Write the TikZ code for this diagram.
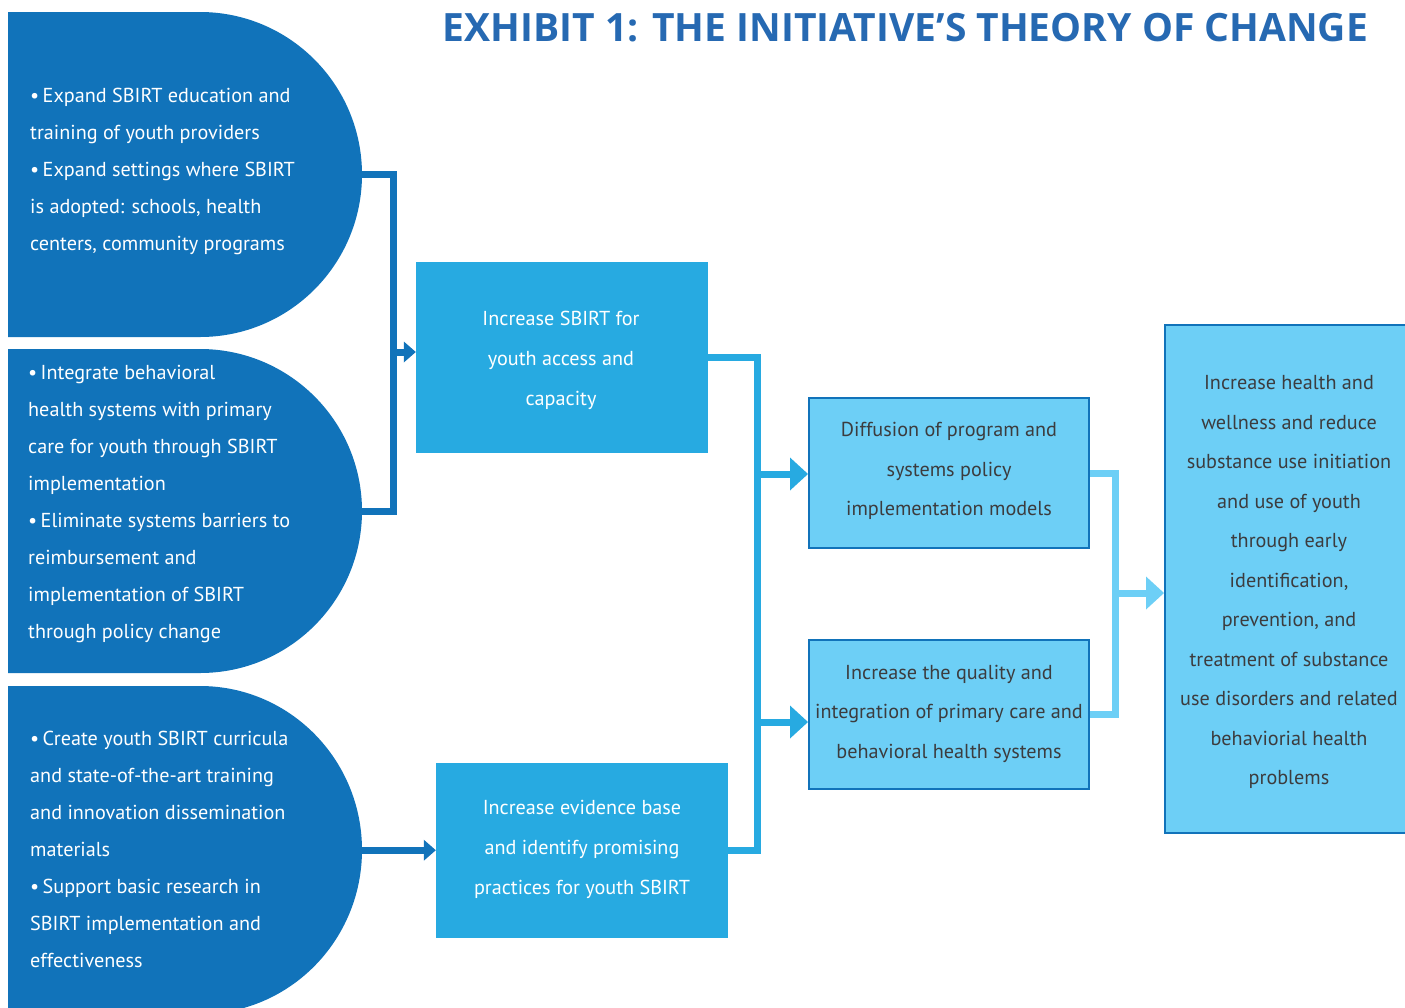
\documentclass[tikz,border=0pt]{standalone}
\usepackage{fontspec}
\setmainfont{PT Sans}
\newfontfamily\titlefont{Open Sans}
\usetikzlibrary{arrows.meta}
\definecolor{dblue}{RGB}{17,115,186}
\definecolor{mblue}{RGB}{39,170,225}
\definecolor{lblue}{RGB}{109,207,246}
\definecolor{tgray}{RGB}{60,60,62}
\definecolor{tblue}{RGB}{38,105,178}
\tikzset{
  frame/.style={inner sep=0pt, minimum width=#1},
  dtext/.style={text=white, align=left, inner sep=0pt, anchor=west, font=\fontsize{20.2}{37}\selectfont},
  midbox/.style={fill=mblue, inner sep=0pt},
  midtext/.style={text=white, align=center, inner sep=0pt, font=\fontsize{20.2}{40}\selectfont},
  litebox/.style={fill=lblue, draw=dblue, line width=2pt, inner sep=0pt},
  litetext/.style={text=tgray, align=center, inner sep=0pt, font=\fontsize{20.2}{39.5}\selectfont},
  dline/.style={draw=dblue, line width=7pt},
  mline/.style={draw=mblue, line width=7pt},
  lline/.style={draw=lblue, line width=7pt},
  smalltip/.style={-{Triangle[length=12pt,width=21pt,line width=0pt]}},
  bigtip/.style={-{Triangle[length=18pt,width=33pt,line width=0pt]}},
}
\begin{document}
\begin{tikzpicture}[x=1pt,y=-1pt]
\useasboundingbox (0,0) rectangle (1405,1007);
\begin{scope}
\clip (0,0) rectangle (1405,1007);
% D shapes
\fill[dblue] (8,12) -- (200,12) .. controls (289.5,12) and (362,84.8) .. (362,174.5) .. controls (362,264.2) and (289.5,337) .. (200,337) -- (8,337) -- cycle;
\fill[dblue] (8,349) -- (200,349) .. controls (289.5,349) and (362,421.5) .. (362,511) .. controls (362,600.5) and (289.5,673) .. (200,673) -- (8,673) -- cycle;
\fill[dblue] (8,686) -- (200,686) .. controls (289.5,686) and (362,759.4) .. (362,850) .. controls (362,940.6) and (289.5,1014) .. (200,1014) -- (8,1014) -- cycle;
\node[frame=354pt, minimum height=325pt, anchor=north west] (s1) at (8,12) {};
\node[frame=354pt, minimum height=324pt, anchor=north west] (s2) at (8,349) {};
\node[frame=354pt, minimum height=328pt, anchor=north west] (s3) at (8,686) {};

\node[dtext] (t1) at (30,171) {•\,Expand SBIRT education and\\training of youth providers\\•\,Expand settings where SBIRT\\is adopted: schools, health\\centers, community programs};
\node[dtext] (t2) at (28,504) {•\,Integrate behavioral\\health systems with primary\\care for youth through SBIRT\\implementation\\•\,Eliminate systems barriers to\\reimbursement and\\implementation of SBIRT\\through policy change};
\node[dtext] (t3) at (30,849.5) {•\,Create youth SBIRT curricula\\and state-of-the-art training\\and innovation dissemination\\materials\\•\,Support basic research in\\SBIRT implementation and\\effectiveness};

% boxes
\node[midbox, minimum width=292pt, minimum height=191pt] (a) at (562,357.5) {};
\node[midtext] (ta) at (561,360.5) {Increase SBIRT for\\youth access and\\capacity};
\node[midbox, minimum width=292pt, minimum height=175pt] (b) at (582,850.5) {};
\node[midtext] (tb) at (582,849.5) {Increase evidence base\\and identify promising\\practices for youth SBIRT};
\node[litebox, minimum width=280pt, minimum height=150pt] (c) at (949,473) {};
\node[litetext] (tc) at (949,471) {Diffusion of program and\\systems policy\\implementation models};
\node[litebox, minimum width=280pt, minimum height=149pt] (d) at (949,714.5) {};
\node[litetext] (td) at (949,713.5) {Increase the quality and\\integration of primary care and\\behavioral health systems};
\node[litebox, minimum width=248pt, minimum height=508pt] (e) at (1289,579) {};
\node[litetext] (te) at (1289,582) {Increase health and\\wellness and reduce\\substance use initiation\\and use of youth\\through early\\identification,\\prevention, and\\treatment of substance\\use disorders and related\\behaviorial health\\problems};
\end{scope}

% title
\node[text=tblue, font=\titlefont\bfseries\fontsize{39}{39}\selectfont, inner sep=0pt] (title) at (905.5,28) {EXHIBIT 1: THE INITIATIVE’S THEORY OF CHANGE};

% dark connectors
\coordinate (j1) at (393,352);
\draw[dline] (s1.east) -| (j1) |- (s2.east);
\draw[dline, smalltip] (j1) -- (a.west |- j1);
\draw[dline, smalltip] (s3.east) -- (b.west |- s3.east);

% mid connectors
\coordinate (j2) at (757,474);
\coordinate (j3) at (757,722);
\draw[mline] (a.east) -| (j2) |- (b.east);
\draw[mline, bigtip] (j2) -- (c.west |- j2);
\draw[mline, bigtip] (j3) -- (d.west |- j3);

% light connectors
\coordinate (j4) at (1115,593);
\draw[lline] (c.east) -| (j4) |- (d.east);
\draw[lline, bigtip] (j4) -- (e.west |- j4);
\end{tikzpicture}
\end{document}
